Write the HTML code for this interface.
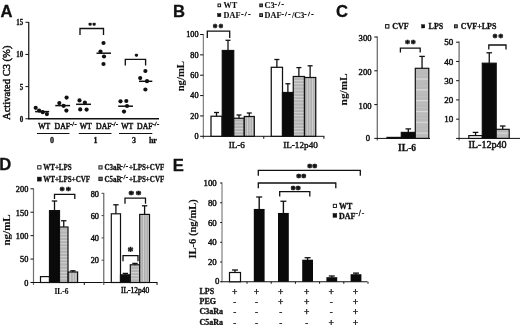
<!DOCTYPE html>
<html><head><meta charset="utf-8"><title>Figure</title>
<style>html,body{margin:0;padding:0;background:#fff}svg{display:block}text{fill:#111;stroke:#111;stroke-width:0.3px}</style>
</head><body>
<svg width="520" height="325" viewBox="0 0 520 325">
<defs>
<pattern id="hs" width="4" height="3.2" patternUnits="userSpaceOnUse"><rect width="4" height="3.2" fill="#b2b2b2"/><rect y="0" width="4" height="1" fill="#d2d2d2"/></pattern>
<pattern id="vs" width="2.6" height="4" patternUnits="userSpaceOnUse"><rect width="2.6" height="4" fill="#b0b0b0"/><rect x="0" width="0.9" height="4" fill="#d2d2d2"/></pattern>
<pattern id="hc" width="4" height="10.8" y="78.5" patternUnits="userSpaceOnUse"><rect width="4" height="10.8" fill="#b9b9b9"/><rect y="0" width="4" height="1.2" fill="#dcdcdc"/><rect y="3.6" width="4" height="0.6" fill="#c6c6c6"/><rect y="7.2" width="4" height="0.6" fill="#c6c6c6"/></pattern>
</defs>
<rect width="520" height="325" fill="#fff"/>

<text x="0.6" y="16.8" font-size="16.6" text-anchor="start" font-weight="bold" font-family='"Liberation Sans", sans-serif' >A</text>
<text x="173" y="16.6" font-size="16.6" text-anchor="start" font-weight="bold" font-family='"Liberation Sans", sans-serif' >B</text>
<text x="335.9" y="17.1" font-size="16.6" text-anchor="start" font-weight="bold" font-family='"Liberation Sans", sans-serif' >C</text>
<text x="-0.7" y="170.3" font-size="16.6" text-anchor="start" font-weight="bold" font-family='"Liberation Sans", sans-serif' >D</text>
<text x="172.8" y="170.8" font-size="16.6" text-anchor="start" font-weight="bold" font-family='"Liberation Sans", sans-serif' >E</text>
<line x1="28.75" y1="22" x2="28.75" y2="119.25" stroke="#111" stroke-width="1.2"/>
<line x1="28.25" y1="118.75" x2="159" y2="118.75" stroke="#111" stroke-width="1.3"/>
<line x1="25.45" y1="118.75" x2="28.75" y2="118.75" stroke="#111" stroke-width="1"/>
<text x="0" y="0" font-size="8.2" text-anchor="end" font-weight="bold" font-family='"Liberation Serif", serif'  transform="translate(23.25,121.65) scale(0.85,1)">0</text>
<line x1="25.45" y1="86.6" x2="28.75" y2="86.6" stroke="#111" stroke-width="1"/>
<text x="0" y="0" font-size="8.2" text-anchor="end" font-weight="bold" font-family='"Liberation Serif", serif'  transform="translate(23.25,89.5) scale(0.85,1)">5</text>
<line x1="25.45" y1="54.45" x2="28.75" y2="54.45" stroke="#111" stroke-width="1"/>
<text x="0" y="0" font-size="8.2" text-anchor="end" font-weight="bold" font-family='"Liberation Serif", serif'  transform="translate(23.25,57.35) scale(0.85,1)">10</text>
<line x1="25.45" y1="22.299999999999997" x2="28.75" y2="22.299999999999997" stroke="#111" stroke-width="1"/>
<text x="0" y="0" font-size="8.2" text-anchor="end" font-weight="bold" font-family='"Liberation Serif", serif'  transform="translate(23.25,25.199999999999996) scale(0.85,1)">15</text>
<text transform="translate(10,82.8) rotate(-90)" font-size="10.55" style="stroke-width:0.45px" text-anchor="middle" font-family='"Liberation Serif", serif'>Activated C3 (%)</text>
<circle cx="35.7" cy="107.8" r="2.1" fill="#111"/>
<circle cx="39.1" cy="110.6" r="2.1" fill="#111"/>
<circle cx="42.7" cy="112.2" r="2.1" fill="#111"/>
<circle cx="46.9" cy="114.1" r="2.1" fill="#111"/>
<line x1="35.1" y1="111.6" x2="49.2" y2="111.6" stroke="#111" stroke-width="1.5"/>
<circle cx="59.3" cy="103.1" r="2.1" fill="#111"/>
<circle cx="63.6" cy="105.8" r="2.1" fill="#111"/>
<circle cx="66.6" cy="97.6" r="2.1" fill="#111"/>
<circle cx="66.4" cy="110.6" r="2.1" fill="#111"/>
<line x1="55.3" y1="105.6" x2="70.1" y2="105.6" stroke="#111" stroke-width="1.5"/>
<circle cx="79.5" cy="100.4" r="2.1" fill="#111"/>
<circle cx="80.2" cy="109.4" r="2.1" fill="#111"/>
<circle cx="84.9" cy="102.7" r="2.1" fill="#111"/>
<circle cx="86.6" cy="109.6" r="2.1" fill="#111"/>
<line x1="76.1" y1="104.3" x2="91" y2="104.3" stroke="#111" stroke-width="1.5"/>
<circle cx="103.5" cy="43" r="2.1" fill="#111"/>
<circle cx="100.5" cy="51.5" r="2.1" fill="#111"/>
<circle cx="104" cy="56.5" r="2.1" fill="#111"/>
<circle cx="103.5" cy="64" r="2.1" fill="#111"/>
<line x1="96.5" y1="53.2" x2="111" y2="53.2" stroke="#111" stroke-width="1.5"/>
<circle cx="120.5" cy="101.3" r="2.1" fill="#111"/>
<circle cx="126.3" cy="101" r="2.1" fill="#111"/>
<circle cx="127" cy="106" r="2.1" fill="#111"/>
<circle cx="124" cy="111.6" r="2.1" fill="#111"/>
<line x1="118.2" y1="106.2" x2="133" y2="106.2" stroke="#111" stroke-width="1.5"/>
<circle cx="145.4" cy="71" r="2.1" fill="#111"/>
<circle cx="140.2" cy="78.1" r="2.1" fill="#111"/>
<circle cx="147" cy="81.2" r="2.1" fill="#111"/>
<circle cx="145.4" cy="89.5" r="2.1" fill="#111"/>
<line x1="139" y1="81.3" x2="152.3" y2="81.3" stroke="#111" stroke-width="1.5"/>
<path d="M80 35V28.5H103.5V35" fill="none" stroke="#111" stroke-width="1.35"/>
<path d="M125.3 65.5V59.3H145.6V65.5" fill="none" stroke="#111" stroke-width="1.35"/>
<text x="92.6" y="27.2" font-size="6.4" text-anchor="middle" font-weight="bold" font-family='"Liberation Serif", serif' letter-spacing="0.9" style="stroke-width:0.55px">**</text>
<text x="136.4" y="57.5" font-size="6.6" text-anchor="middle" font-weight="bold" font-family='"Liberation Serif", serif' style="stroke-width:0.55px">*</text>
<text x="38.3" y="128.5" font-size="7.7" text-anchor="start" font-weight="normal" font-family='"Liberation Serif", serif' style="stroke-width:0.5px">WT</text>
<text x="79.8" y="128.5" font-size="7.7" text-anchor="start" font-weight="normal" font-family='"Liberation Serif", serif' style="stroke-width:0.5px">WT</text>
<text x="121.3" y="128.5" font-size="7.7" text-anchor="start" font-weight="normal" font-family='"Liberation Serif", serif' style="stroke-width:0.5px">WT</text>
<text x="54.6" y="128.5" font-size="7.7" text-anchor="start" font-weight="normal" font-family='"Liberation Serif", serif' style="stroke-width:0.5px">DAF<tspan dy="-2.6" font-size="6.4" letter-spacing="0.25" font-weight="bold" style="stroke-width:0.35px">-/-</tspan><tspan dy="2.6" font-size="1">&#8203;</tspan></text>
<text x="96.1" y="128.5" font-size="7.7" text-anchor="start" font-weight="normal" font-family='"Liberation Serif", serif' style="stroke-width:0.5px">DAF<tspan dy="-2.6" font-size="6.4" letter-spacing="0.25" font-weight="bold" style="stroke-width:0.35px">-/-</tspan><tspan dy="2.6" font-size="1">&#8203;</tspan></text>
<text x="137.1" y="128.5" font-size="7.7" text-anchor="start" font-weight="normal" font-family='"Liberation Serif", serif' style="stroke-width:0.5px">DAF<tspan dy="-2.6" font-size="6.4" letter-spacing="0.25" font-weight="bold" style="stroke-width:0.35px">-/-</tspan><tspan dy="2.6" font-size="1">&#8203;</tspan></text>
<line x1="37" y1="133.5" x2="69.5" y2="133.5" stroke="#111" stroke-width="1.2"/>
<text x="51.9" y="143" font-size="8" text-anchor="middle" font-weight="bold" font-family='"Liberation Serif", serif' >0</text>
<line x1="78.8" y1="133.5" x2="111.5" y2="133.5" stroke="#111" stroke-width="1.2"/>
<text x="95.5" y="143" font-size="8" text-anchor="middle" font-weight="bold" font-family='"Liberation Serif", serif' >1</text>
<line x1="119" y1="133.5" x2="152.3" y2="133.5" stroke="#111" stroke-width="1.2"/>
<text x="134" y="143" font-size="8" text-anchor="middle" font-weight="bold" font-family='"Liberation Serif", serif' >3</text>
<text x="148.9" y="143" font-size="8" text-anchor="start" font-weight="bold" font-family='"Liberation Serif", serif' >hr</text>
<line x1="203.3" y1="34" x2="203.3" y2="138.8" stroke="#666" stroke-width="1"/>
<line x1="202.8" y1="136.3" x2="324.4" y2="136.3" stroke="#111" stroke-width="1"/>
<line x1="200.10000000000002" y1="136.3" x2="203.3" y2="136.3" stroke="#111" stroke-width="1"/>
<text x="198.5" y="139.0" font-size="8.2" text-anchor="end" font-weight="normal" font-family='"Liberation Serif", serif' style="stroke-width:0.45px">0</text>
<line x1="200.10000000000002" y1="115.94000000000001" x2="203.3" y2="115.94000000000001" stroke="#111" stroke-width="1"/>
<text x="198.5" y="118.64000000000001" font-size="8.2" text-anchor="end" font-weight="normal" font-family='"Liberation Serif", serif' style="stroke-width:0.45px">20</text>
<line x1="200.10000000000002" y1="95.58000000000001" x2="203.3" y2="95.58000000000001" stroke="#111" stroke-width="1"/>
<text x="198.5" y="98.28000000000002" font-size="8.2" text-anchor="end" font-weight="normal" font-family='"Liberation Serif", serif' style="stroke-width:0.45px">40</text>
<line x1="200.10000000000002" y1="75.22000000000001" x2="203.3" y2="75.22000000000001" stroke="#111" stroke-width="1"/>
<text x="198.5" y="77.92000000000002" font-size="8.2" text-anchor="end" font-weight="normal" font-family='"Liberation Serif", serif' style="stroke-width:0.45px">60</text>
<line x1="200.10000000000002" y1="54.860000000000014" x2="203.3" y2="54.860000000000014" stroke="#111" stroke-width="1"/>
<text x="198.5" y="57.56000000000002" font-size="8.2" text-anchor="end" font-weight="normal" font-family='"Liberation Serif", serif' style="stroke-width:0.45px">80</text>
<line x1="200.10000000000002" y1="34.500000000000014" x2="203.3" y2="34.500000000000014" stroke="#111" stroke-width="1"/>
<text x="198.5" y="37.20000000000002" font-size="8.2" text-anchor="end" font-weight="normal" font-family='"Liberation Serif", serif' style="stroke-width:0.45px">100</text>
<line x1="263.75" y1="136.3" x2="263.75" y2="138.8" stroke="#111" stroke-width="1"/>
<line x1="323.9" y1="136.3" x2="323.9" y2="138.8" stroke="#111" stroke-width="1"/>
<text transform="translate(183.5,76.2) rotate(-90)" font-size="10.7" style="stroke-width:0.12px" font-weight="bold" text-anchor="middle" font-family='"Liberation Serif", serif'>ng/mL</text>
<rect x="211" y="116.25" width="11" height="20.05000000000001" fill="#fff" stroke="#111" stroke-width="1.25"/>
<line x1="216.5" y1="116.25" x2="216.5" y2="112.5" stroke="#111" stroke-width="1.3"/>
<line x1="214.0" y1="112.5" x2="219.0" y2="112.5" stroke="#111" stroke-width="1.3"/>
<rect x="222.3" y="50.5" width="11.399999999999977" height="85.80000000000001" fill="#0a0a0a" stroke="#111" stroke-width="1.25"/>
<line x1="228.0" y1="50.5" x2="228.0" y2="40.3" stroke="#111" stroke-width="1.3"/>
<line x1="225.5" y1="40.3" x2="230.5" y2="40.3" stroke="#111" stroke-width="1.3"/>
<rect x="233.75" y="118.25" width="10.5" height="18.05000000000001" fill="url(#hs)" stroke="#111" stroke-width="1.25"/>
<line x1="239.0" y1="118.25" x2="239.0" y2="115" stroke="#111" stroke-width="1.3"/>
<line x1="236.5" y1="115" x2="241.5" y2="115" stroke="#111" stroke-width="1.3"/>
<rect x="244.25" y="116.5" width="10.050000000000011" height="19.80000000000001" fill="url(#vs)" stroke="#111" stroke-width="1.25"/>
<line x1="249.275" y1="116.5" x2="249.275" y2="113" stroke="#111" stroke-width="1.3"/>
<line x1="246.775" y1="113" x2="251.775" y2="113" stroke="#111" stroke-width="1.3"/>
<rect x="271.25" y="67.3" width="11.25" height="69.00000000000001" fill="#fff" stroke="#111" stroke-width="1.25"/>
<line x1="276.875" y1="67.3" x2="276.875" y2="59.5" stroke="#111" stroke-width="1.3"/>
<line x1="274.375" y1="59.5" x2="279.375" y2="59.5" stroke="#111" stroke-width="1.3"/>
<rect x="282.5" y="92.5" width="10.75" height="43.80000000000001" fill="#0a0a0a" stroke="#111" stroke-width="1.25"/>
<line x1="287.875" y1="92.5" x2="287.875" y2="83.75" stroke="#111" stroke-width="1.3"/>
<line x1="285.375" y1="83.75" x2="290.375" y2="83.75" stroke="#111" stroke-width="1.3"/>
<rect x="293.25" y="76.5" width="11.25" height="59.80000000000001" fill="url(#hs)" stroke="#111" stroke-width="1.25"/>
<line x1="298.875" y1="76.5" x2="298.875" y2="67.6" stroke="#111" stroke-width="1.3"/>
<line x1="296.375" y1="67.6" x2="301.375" y2="67.6" stroke="#111" stroke-width="1.3"/>
<rect x="304.5" y="77.5" width="11.25" height="58.80000000000001" fill="url(#vs)" stroke="#111" stroke-width="1.25"/>
<line x1="310.125" y1="77.5" x2="310.125" y2="65.8" stroke="#111" stroke-width="1.3"/>
<line x1="307.625" y1="65.8" x2="312.625" y2="65.8" stroke="#111" stroke-width="1.3"/>
<text x="236.8" y="147.9" font-size="9.2" text-anchor="middle" font-weight="normal" font-family='"Liberation Serif", serif' style="stroke-width:0.4px">IL-6</text>
<text x="300.5" y="147.9" font-size="9.2" text-anchor="middle" font-weight="normal" font-family='"Liberation Serif", serif' style="stroke-width:0.4px">IL-12p40</text>
<path d="M207.3 38V31.1H229.7V38" fill="none" stroke="#111" stroke-width="1.3"/>
<text x="218.4" y="31.4" font-size="9.5" text-anchor="middle" font-weight="bold" font-family='"Liberation Serif", serif' letter-spacing="0.8" style="stroke-width:0.5px">**</text>
<rect x="218" y="4" width="2.6" height="2.7" fill="#fff" stroke="#111" stroke-width="1"/>
<text x="223.6" y="8.1" font-size="8.2" text-anchor="start" font-weight="bold" font-family='"Liberation Serif", serif' style="stroke-width:0.1px">WT</text>
<rect x="217.6" y="13.5" width="3.3" height="3.2" fill="#111" stroke="#111" stroke-width="0.5"/>
<text x="223.6" y="18.2" font-size="8.2" text-anchor="start" font-weight="bold" font-family='"Liberation Serif", serif' style="stroke-width:0.1px">DAF<tspan dx="0.8" font-size="1">&#8203;</tspan><tspan dy="-1.9" font-size="6.9" letter-spacing="1.35" font-weight="bold" style="stroke-width:0.35px">-/-</tspan><tspan dy="1.9" font-size="1">&#8203;</tspan></text>
<rect x="259.8" y="4" width="2.6" height="2.7" fill="#777" stroke="#111" stroke-width="1"/>
<text x="264.6" y="8.1" font-size="8.2" text-anchor="start" font-weight="bold" font-family='"Liberation Serif", serif' style="stroke-width:0.1px">C3<tspan dy="-1.9" font-size="6.9" letter-spacing="1.35" font-weight="bold" style="stroke-width:0.35px">-/-</tspan><tspan dy="1.9" font-size="1">&#8203;</tspan></text>
<rect x="259.8" y="13.8" width="2.6" height="2.7" fill="#999" stroke="#111" stroke-width="1.1"/>
<text x="264.6" y="18.2" font-size="8.2" text-anchor="start" font-weight="bold" font-family='"Liberation Serif", serif' style="stroke-width:0.1px">DAF<tspan dy="-1.9" font-size="6.9" letter-spacing="1.35" font-weight="bold" style="stroke-width:0.35px">-/-</tspan><tspan dy="1.9" font-size="1">&#8203;</tspan>/C3<tspan dy="-1.9" font-size="6.9" letter-spacing="1.35" font-weight="bold" style="stroke-width:0.35px">-/-</tspan><tspan dy="1.9" font-size="1">&#8203;</tspan></text>
<line x1="377.3" y1="36.5" x2="377.3" y2="140.4" stroke="#707070" stroke-width="1.3"/>
<line x1="376.8" y1="138.4" x2="430" y2="138.4" stroke="#111" stroke-width="1"/>
<line x1="374.3" y1="138.4" x2="377.3" y2="138.4" stroke="#111" stroke-width="1"/>
<text x="370.1" y="141.3" font-size="8.6" text-anchor="end" font-weight="normal" font-family='"Liberation Serif", serif' style="stroke-width:0.45px">0</text>
<line x1="374.3" y1="104.6" x2="377.3" y2="104.6" stroke="#111" stroke-width="1"/>
<text x="371.5" y="108.5" font-size="8.6" text-anchor="end" font-weight="normal" font-family='"Liberation Serif", serif' style="stroke-width:0.45px">100</text>
<line x1="374.3" y1="70.8" x2="377.3" y2="70.8" stroke="#111" stroke-width="1"/>
<text x="371.5" y="74.7" font-size="8.6" text-anchor="end" font-weight="normal" font-family='"Liberation Serif", serif' style="stroke-width:0.45px">200</text>
<line x1="374.3" y1="37.0" x2="377.3" y2="37.0" stroke="#111" stroke-width="1"/>
<text x="371.5" y="40.9" font-size="8.6" text-anchor="end" font-weight="normal" font-family='"Liberation Serif", serif' style="stroke-width:0.45px">300</text>
<text transform="translate(346.7,89.4) rotate(-90)" font-size="11.3" style="stroke-width:0.12px" font-weight="bold" text-anchor="middle" font-family='"Liberation Serif", serif'>ng/mL</text>
<rect x="387" y="137.4" width="14.300000000000011" height="1.0" fill="#111" stroke="#111" stroke-width="1.2"/>
<rect x="401.3" y="132.4" width="14.0" height="6.0" fill="#0a0a0a" stroke="#111" stroke-width="1.2"/>
<line x1="408.3" y1="132.4" x2="408.3" y2="128.9" stroke="#111" stroke-width="1.3"/>
<line x1="405.5" y1="128.9" x2="411.1" y2="128.9" stroke="#111" stroke-width="1.3"/>
<rect x="415.3" y="68.3" width="13.5" height="70.10000000000001" fill="url(#hc)" stroke="#111" stroke-width="1.2"/>
<line x1="422.05" y1="68.3" x2="422.05" y2="56.4" stroke="#111" stroke-width="1.3"/>
<line x1="419.25" y1="56.4" x2="424.85" y2="56.4" stroke="#111" stroke-width="1.3"/>
<path d="M400.4 52.6V48.1H420.2V52.6" fill="none" stroke="#111" stroke-width="1.3"/>
<text x="410.8" y="46.6" font-size="10" text-anchor="middle" font-weight="bold" font-family='"Liberation Serif", serif' letter-spacing="0.7" style="stroke-width:0.55px">**</text>
<text x="0" y="0" font-size="10" text-anchor="start" font-weight="bold" font-family='"Liberation Serif", serif'  transform="translate(398.1,151) scale(0.95,1)">IL-6</text>
<line x1="459.1" y1="41.5" x2="459.1" y2="140.4" stroke="#707070" stroke-width="1.3"/>
<line x1="458.6" y1="138.4" x2="520" y2="138.4" stroke="#111" stroke-width="1"/>
<line x1="456.1" y1="138.4" x2="459.1" y2="138.4" stroke="#111" stroke-width="1"/>
<line x1="456.1" y1="119.16000000000001" x2="459.1" y2="119.16000000000001" stroke="#111" stroke-width="1"/>
<text x="453.3" y="122.26" font-size="9" text-anchor="end" font-weight="normal" font-family='"Liberation Serif", serif' style="stroke-width:0.45px">10</text>
<line x1="456.1" y1="99.92000000000002" x2="459.1" y2="99.92000000000002" stroke="#111" stroke-width="1"/>
<text x="453.3" y="103.02000000000001" font-size="9" text-anchor="end" font-weight="normal" font-family='"Liberation Serif", serif' style="stroke-width:0.45px">20</text>
<line x1="456.1" y1="80.68" x2="459.1" y2="80.68" stroke="#111" stroke-width="1"/>
<text x="453.3" y="83.78" font-size="9" text-anchor="end" font-weight="normal" font-family='"Liberation Serif", serif' style="stroke-width:0.45px">30</text>
<line x1="456.1" y1="61.44000000000001" x2="459.1" y2="61.44000000000001" stroke="#111" stroke-width="1"/>
<text x="453.3" y="64.54" font-size="9" text-anchor="end" font-weight="normal" font-family='"Liberation Serif", serif' style="stroke-width:0.45px">40</text>
<line x1="456.1" y1="42.2" x2="459.1" y2="42.2" stroke="#111" stroke-width="1"/>
<text x="453.3" y="45.300000000000004" font-size="9" text-anchor="end" font-weight="normal" font-family='"Liberation Serif", serif' style="stroke-width:0.45px">50</text>
<rect x="468.8" y="135.6" width="13.5" height="2.8000000000000114" fill="#fff" stroke="#111" stroke-width="1.2"/>
<line x1="475.55" y1="135.6" x2="475.55" y2="132.4" stroke="#111" stroke-width="1.3"/>
<line x1="472.75" y1="132.4" x2="478.35" y2="132.4" stroke="#111" stroke-width="1.3"/>
<rect x="482.3" y="63.2" width="13.899999999999977" height="75.2" fill="#0a0a0a" stroke="#111" stroke-width="1.2"/>
<line x1="489.25" y1="63.2" x2="489.25" y2="52.8" stroke="#111" stroke-width="1.3"/>
<line x1="486.45" y1="52.8" x2="492.05" y2="52.8" stroke="#111" stroke-width="1.3"/>
<rect x="496.2" y="129.3" width="13.0" height="9.099999999999994" fill="url(#hc)" stroke="#111" stroke-width="1.2"/>
<line x1="502.7" y1="129.3" x2="502.7" y2="126" stroke="#111" stroke-width="1.3"/>
<line x1="499.9" y1="126" x2="505.5" y2="126" stroke="#111" stroke-width="1.3"/>
<path d="M488.8 49.6V45H506V49.6" fill="none" stroke="#111" stroke-width="1.3"/>
<text x="498.2" y="41.4" font-size="10" text-anchor="middle" font-weight="bold" font-family='"Liberation Serif", serif' letter-spacing="0.7" style="stroke-width:0.55px">**</text>
<text x="468.5" y="148.4" font-size="10.1" text-anchor="start" font-weight="normal" font-family='"Liberation Serif", serif' style="stroke-width:0.45px">IL-12p40</text>
<rect x="385.6" y="24.6" width="3.3" height="3.5" fill="#fff" stroke="#111" stroke-width="1"/>
<text x="392.3" y="29.3" font-size="8" text-anchor="start" font-weight="bold" font-family='"Liberation Serif", serif' >CVF</text>
<rect x="421.5" y="24.6" width="3.3" height="3.4" fill="#111" stroke="#111" stroke-width="0.4"/>
<text x="428.6" y="29.3" font-size="8" text-anchor="start" font-weight="bold" font-family='"Liberation Serif", serif' >LPS</text>
<rect x="454.5" y="24.8" width="2.8" height="3" fill="#777" stroke="#111" stroke-width="0.9"/>
<text x="460.7" y="29.3" font-size="8" text-anchor="start" font-weight="bold" font-family='"Liberation Serif", serif' >CVF+LPS</text>
<line x1="33.5" y1="188.5" x2="33.5" y2="285.0" stroke="#707070" stroke-width="1.2"/>
<line x1="33.0" y1="282.5" x2="104" y2="282.5" stroke="#111" stroke-width="1"/>
<line x1="30.5" y1="282.5" x2="33.5" y2="282.5" stroke="#111" stroke-width="1"/>
<text x="28.3" y="285.9" font-size="8.3" text-anchor="end" font-weight="normal" font-family='"Liberation Serif", serif' style="stroke-width:0.45px">0</text>
<line x1="30.5" y1="259.075" x2="33.5" y2="259.075" stroke="#111" stroke-width="1"/>
<text x="28.3" y="262.47499999999997" font-size="8.3" text-anchor="end" font-weight="normal" font-family='"Liberation Serif", serif' style="stroke-width:0.45px">50</text>
<line x1="30.5" y1="235.65" x2="33.5" y2="235.65" stroke="#111" stroke-width="1"/>
<text x="28.3" y="239.05" font-size="8.3" text-anchor="end" font-weight="normal" font-family='"Liberation Serif", serif' style="stroke-width:0.45px">100</text>
<line x1="30.5" y1="212.225" x2="33.5" y2="212.225" stroke="#111" stroke-width="1"/>
<text x="28.3" y="215.625" font-size="8.3" text-anchor="end" font-weight="normal" font-family='"Liberation Serif", serif' style="stroke-width:0.45px">150</text>
<line x1="30.5" y1="188.8" x2="33.5" y2="188.8" stroke="#111" stroke-width="1"/>
<text x="28.3" y="192.20000000000002" font-size="8.3" text-anchor="end" font-weight="normal" font-family='"Liberation Serif", serif' style="stroke-width:0.45px">200</text>
<line x1="84.3" y1="282.5" x2="84.3" y2="285.0" stroke="#111" stroke-width="1"/>
<text transform="translate(10.4,229.9) rotate(-90)" font-size="11" style="stroke-width:0.12px" font-weight="bold" text-anchor="middle" font-family='"Liberation Serif", serif'>ng/mL</text>
<rect x="40.5" y="276.6" width="9.0" height="5.899999999999977" fill="#fff" stroke="#111" stroke-width="1.2"/>
<rect x="49.5" y="210.6" width="10.0" height="71.9" fill="#0a0a0a" stroke="#111" stroke-width="1.2"/>
<line x1="54.5" y1="210.6" x2="54.5" y2="201" stroke="#111" stroke-width="1.3"/>
<line x1="51.8" y1="201" x2="57.2" y2="201" stroke="#111" stroke-width="1.3"/>
<rect x="59.5" y="227" width="8.5" height="55.5" fill="url(#hs)" stroke="#111" stroke-width="1.2"/>
<line x1="63.75" y1="227" x2="63.75" y2="220.75" stroke="#111" stroke-width="1.3"/>
<line x1="61.05" y1="220.75" x2="66.45" y2="220.75" stroke="#111" stroke-width="1.3"/>
<rect x="68.2" y="272" width="9.399999999999991" height="10.5" fill="url(#vs)" stroke="#111" stroke-width="1.2"/>
<line x1="72.9" y1="272" x2="72.9" y2="270.8" stroke="#111" stroke-width="1.3"/>
<line x1="70.2" y1="270.8" x2="75.60000000000001" y2="270.8" stroke="#111" stroke-width="1.3"/>
<path d="M54.5 199V194.4H74.8V199" fill="none" stroke="#111" stroke-width="1.3"/>
<text x="65.7" y="194.1" font-size="10.5" text-anchor="middle" font-weight="bold" font-family='"Liberation Serif", serif' letter-spacing="0.9" style="stroke-width:0.5px">**</text>
<text x="61.5" y="294.2" font-size="7.5" text-anchor="middle" font-weight="bold" font-family='"Liberation Serif", serif' style="stroke-width:0.1px">IL-6</text>
<line x1="103.75" y1="193" x2="103.75" y2="285.0" stroke="#707070" stroke-width="1.3"/>
<line x1="103.25" y1="282.5" x2="157.5" y2="282.5" stroke="#111" stroke-width="1"/>
<line x1="101.55" y1="282.5" x2="103.75" y2="282.5" stroke="#444" stroke-width="1"/>
<line x1="101.55" y1="260.2" x2="103.75" y2="260.2" stroke="#444" stroke-width="1"/>
<text x="98.95" y="263.4" font-size="8.3" text-anchor="end" font-weight="normal" font-family='"Liberation Serif", serif' style="stroke-width:0.45px">20</text>
<line x1="101.55" y1="237.9" x2="103.75" y2="237.9" stroke="#444" stroke-width="1"/>
<text x="98.95" y="241.1" font-size="8.3" text-anchor="end" font-weight="normal" font-family='"Liberation Serif", serif' style="stroke-width:0.45px">40</text>
<line x1="101.55" y1="215.6" x2="103.75" y2="215.6" stroke="#444" stroke-width="1"/>
<text x="98.95" y="218.79999999999998" font-size="8.3" text-anchor="end" font-weight="normal" font-family='"Liberation Serif", serif' style="stroke-width:0.45px">60</text>
<line x1="101.55" y1="193.3" x2="103.75" y2="193.3" stroke="#444" stroke-width="1"/>
<text x="98.95" y="196.5" font-size="8.3" text-anchor="end" font-weight="normal" font-family='"Liberation Serif", serif' style="stroke-width:0.45px">80</text>
<line x1="157" y1="282.5" x2="157" y2="285.0" stroke="#111" stroke-width="1"/>
<rect x="111.3" y="213.8" width="9.200000000000003" height="68.69999999999999" fill="#fff" stroke="#111" stroke-width="1.2"/>
<line x1="115.9" y1="213.8" x2="115.9" y2="204.8" stroke="#111" stroke-width="1.3"/>
<line x1="113.2" y1="204.8" x2="118.60000000000001" y2="204.8" stroke="#111" stroke-width="1.3"/>
<rect x="120.5" y="274.8" width="9.800000000000011" height="7.699999999999989" fill="#0a0a0a" stroke="#111" stroke-width="1.2"/>
<line x1="125.4" y1="274.8" x2="125.4" y2="273.4" stroke="#111" stroke-width="1.3"/>
<line x1="122.7" y1="273.4" x2="128.1" y2="273.4" stroke="#111" stroke-width="1.3"/>
<rect x="130.3" y="264.8" width="9.399999999999977" height="17.69999999999999" fill="url(#hs)" stroke="#111" stroke-width="1.2"/>
<line x1="135.0" y1="264.8" x2="135.0" y2="263.4" stroke="#111" stroke-width="1.3"/>
<line x1="132.3" y1="263.4" x2="137.7" y2="263.4" stroke="#111" stroke-width="1.3"/>
<rect x="139.7" y="214.4" width="9.800000000000011" height="68.1" fill="url(#vs)" stroke="#111" stroke-width="1.2"/>
<line x1="144.6" y1="214.4" x2="144.6" y2="205.8" stroke="#111" stroke-width="1.3"/>
<line x1="141.9" y1="205.8" x2="147.29999999999998" y2="205.8" stroke="#111" stroke-width="1.3"/>
<path d="M125 203.7V198.1H145.5V203.7" fill="none" stroke="#111" stroke-width="1.3"/>
<text x="131.2" y="197.6" font-size="11" text-anchor="middle" font-weight="bold" font-family='"Liberation Serif", serif' style="stroke-width:0.7px">*</text>
<text x="138.5" y="197.6" font-size="11" text-anchor="middle" font-weight="bold" font-family='"Liberation Serif", serif' style="stroke-width:0.7px">*</text>
<path d="M123 261.3V255.7H138V261.3" fill="none" stroke="#111" stroke-width="1.3"/>
<text x="130.6" y="254.6" font-size="12" text-anchor="middle" font-weight="bold" font-family='"Liberation Serif", serif' style="stroke-width:0.45px">*</text>
<text x="121" y="293.2" font-size="7.5" text-anchor="start" font-weight="normal" font-family='"Liberation Serif", serif' style="stroke-width:0.45px">IL-12p40</text>
<rect x="37.7" y="165.7" width="3.3" height="3.3" fill="#fff" stroke="#111" stroke-width="0.9"/>
<text x="0" y="0" font-size="7.8" text-anchor="start" font-weight="bold" font-family='"Liberation Serif", serif'  transform="translate(43.2,170.4) scale(0.9,1)">WT+LPS</text>
<rect x="37.3" y="177.1" width="4" height="4" fill="#111" stroke="#111" stroke-width="0.5"/>
<text x="0" y="0" font-size="7.8" text-anchor="start" font-weight="bold" font-family='"Liberation Serif", serif'  transform="translate(43.2,181.8) scale(0.9,1)">WT+LPS+CVF</text>
<rect x="98.9" y="165.8" width="3.2" height="3.2" fill="#ccc" stroke="#111" stroke-width="0.9"/>
<text x="0" y="0" font-size="7.8" text-anchor="start" font-weight="bold" font-family='"Liberation Serif", serif'  transform="translate(104.4,170.4) scale(0.9,1)">C3aR</text>
<text x="120.6" y="168.0" font-size="7" text-anchor="start" font-weight="bold" font-family='"Liberation Serif", serif' letter-spacing="0.5">-/-</text>
<text x="0" y="0" font-size="7.8" text-anchor="start" font-weight="bold" font-family='"Liberation Serif", serif'  transform="translate(129,170.4) scale(0.9,1)">+LPS+CVF</text>
<rect x="98.9" y="177.2" width="3.3" height="3.4" fill="#777" stroke="#111" stroke-width="0.9"/>
<text x="0" y="0" font-size="7.8" text-anchor="start" font-weight="bold" font-family='"Liberation Serif", serif'  transform="translate(104.4,181.8) scale(0.9,1)">C5aR</text>
<text x="120.6" y="179.4" font-size="7" text-anchor="start" font-weight="bold" font-family='"Liberation Serif", serif' letter-spacing="0.5">-/-</text>
<text x="0" y="0" font-size="7.8" text-anchor="start" font-weight="bold" font-family='"Liberation Serif", serif'  transform="translate(129,181.8) scale(0.9,1)">+LPS+CVF</text>
<line x1="222" y1="182.5" x2="222" y2="282.25" stroke="#666" stroke-width="1"/>
<line x1="221.5" y1="281.75" x2="367.5" y2="281.75" stroke="#111" stroke-width="1"/>
<line x1="220.2" y1="281.75" x2="222" y2="281.75" stroke="#111" stroke-width="1"/>
<text x="219.29999999999998" y="284.35" font-size="8.8" text-anchor="end" font-weight="normal" font-family='"Liberation Serif", serif' style="stroke-width:0.45px">0</text>
<line x1="220.2" y1="262.0" x2="222" y2="262.0" stroke="#111" stroke-width="1"/>
<text x="216.7" y="265.2" font-size="8.8" text-anchor="end" font-weight="normal" font-family='"Liberation Serif", serif' style="stroke-width:0.45px">20</text>
<line x1="220.2" y1="242.25" x2="222" y2="242.25" stroke="#111" stroke-width="1"/>
<text x="216.7" y="245.45" font-size="8.8" text-anchor="end" font-weight="normal" font-family='"Liberation Serif", serif' style="stroke-width:0.45px">40</text>
<line x1="220.2" y1="222.5" x2="222" y2="222.5" stroke="#111" stroke-width="1"/>
<text x="216.7" y="225.7" font-size="8.8" text-anchor="end" font-weight="normal" font-family='"Liberation Serif", serif' style="stroke-width:0.45px">60</text>
<line x1="220.2" y1="202.75" x2="222" y2="202.75" stroke="#111" stroke-width="1"/>
<text x="216.7" y="205.95" font-size="8.8" text-anchor="end" font-weight="normal" font-family='"Liberation Serif", serif' style="stroke-width:0.45px">80</text>
<line x1="220.2" y1="183.0" x2="222" y2="183.0" stroke="#111" stroke-width="1"/>
<text x="216.7" y="186.2" font-size="8.8" text-anchor="end" font-weight="normal" font-family='"Liberation Serif", serif' style="stroke-width:0.45px">100</text>
<text transform="translate(196,228.9) rotate(-90)" font-size="10.5" style="stroke-width:0.15px" font-weight="bold" text-anchor="middle" font-family='"Liberation Serif", serif'>IL-6 (ng/mL)</text>
<rect x="229.5" y="272.5" width="11.0" height="9.25" fill="#fff" stroke="#111" stroke-width="1.2"/>
<line x1="235.0" y1="272.5" x2="235.0" y2="270" stroke="#111" stroke-width="1.3"/>
<line x1="232.0" y1="270" x2="238.0" y2="270" stroke="#111" stroke-width="1.3"/>
<rect x="253.79999999999998" y="208.95" width="10.8" height="72.8" fill="#0a0a0a"/>
<line x1="259.2" y1="209.25" x2="259.2" y2="197" stroke="#111" stroke-width="1.4"/>
<line x1="256.2" y1="197" x2="262.2" y2="197" stroke="#111" stroke-width="1.3"/>
<rect x="278.0" y="212.95" width="10.8" height="68.8" fill="#0a0a0a"/>
<line x1="283.4" y1="213.25" x2="283.4" y2="201.25" stroke="#111" stroke-width="1.4"/>
<line x1="280.4" y1="201.25" x2="286.4" y2="201.25" stroke="#111" stroke-width="1.3"/>
<rect x="302.20000000000005" y="259.7" width="10.8" height="22.05" fill="#0a0a0a"/>
<line x1="307.6" y1="260" x2="307.6" y2="257.7" stroke="#111" stroke-width="1.4"/>
<line x1="304.6" y1="257.7" x2="310.6" y2="257.7" stroke="#111" stroke-width="1.3"/>
<rect x="326.40000000000003" y="277.2" width="10.8" height="4.55" fill="#0a0a0a"/>
<line x1="331.8" y1="277.5" x2="331.8" y2="276" stroke="#111" stroke-width="1.4"/>
<line x1="328.8" y1="276" x2="334.8" y2="276" stroke="#111" stroke-width="1.3"/>
<rect x="350.6" y="274.2" width="10.8" height="7.55" fill="#0a0a0a"/>
<line x1="356.0" y1="274.5" x2="356.0" y2="273.1" stroke="#111" stroke-width="1.4"/>
<line x1="353.0" y1="273.1" x2="359.0" y2="273.1" stroke="#111" stroke-width="1.3"/>
<line x1="247.0" y1="281.75" x2="247.0" y2="283.75" stroke="#111" stroke-width="1"/>
<line x1="271.2" y1="281.75" x2="271.2" y2="283.75" stroke="#111" stroke-width="1"/>
<line x1="295.4" y1="281.75" x2="295.4" y2="283.75" stroke="#111" stroke-width="1"/>
<line x1="319.6" y1="281.75" x2="319.6" y2="283.75" stroke="#111" stroke-width="1"/>
<line x1="343.8" y1="281.75" x2="343.8" y2="283.75" stroke="#111" stroke-width="1"/>
<line x1="368.0" y1="281.75" x2="368.0" y2="283.75" stroke="#111" stroke-width="1"/>
<path d="M258.3 175.7V170.3H360.3V175.7" fill="none" stroke="#111" stroke-width="1.3"/>
<text x="312.3" y="171.3" font-size="10" text-anchor="middle" font-weight="bold" font-family='"Liberation Serif", serif' style="stroke-width:0.7px">**</text>
<path d="M258.3 188.3V183H335.8V188.3" fill="none" stroke="#111" stroke-width="1.3"/>
<text x="301.2" y="181.3" font-size="10" text-anchor="middle" font-weight="bold" font-family='"Liberation Serif", serif' style="stroke-width:0.7px">**</text>
<path d="M279.7 196.6V191.6H309.8V196.6" fill="none" stroke="#111" stroke-width="1.3"/>
<text x="295.8" y="193" font-size="10" text-anchor="middle" font-weight="bold" font-family='"Liberation Serif", serif' style="stroke-width:0.7px">**</text>
<rect x="333.3" y="204.3" width="3.2" height="3.2" fill="#fff" stroke="#111" stroke-width="0.9"/>
<text x="339" y="209" font-size="8" text-anchor="start" font-weight="bold" font-family='"Liberation Serif", serif' >WT</text>
<rect x="333" y="213.5" width="3.8" height="3.8" fill="#111" stroke="#111" stroke-width="0.5"/>
<text x="339" y="218.5" font-size="8" text-anchor="start" font-weight="bold" font-family='"Liberation Serif", serif' >DAF<tspan dy="-2.6" font-size="7.2" letter-spacing="1.0" font-weight="bold" style="stroke-width:0.35px">-/-</tspan><tspan dy="2.6" font-size="1">&#8203;</tspan></text>
<text x="199.5" y="294" font-size="8" text-anchor="start" font-weight="bold" font-family='"Liberation Serif", serif' >LPS</text>
<text x="234.8" y="295" font-size="9.5" text-anchor="middle" font-weight="bold" font-family='"Liberation Serif", serif' >+</text>
<text x="256.5" y="295" font-size="9.5" text-anchor="middle" font-weight="bold" font-family='"Liberation Serif", serif' >+</text>
<text x="280.8" y="295" font-size="9.5" text-anchor="middle" font-weight="bold" font-family='"Liberation Serif", serif' >+</text>
<text x="306.7" y="295" font-size="9.5" text-anchor="middle" font-weight="bold" font-family='"Liberation Serif", serif' >+</text>
<text x="331.3" y="295" font-size="9.5" text-anchor="middle" font-weight="bold" font-family='"Liberation Serif", serif' >+</text>
<text x="355.4" y="295" font-size="9.5" text-anchor="middle" font-weight="bold" font-family='"Liberation Serif", serif' >+</text>
<text x="199.5" y="303.9" font-size="8" text-anchor="start" font-weight="bold" font-family='"Liberation Serif", serif' >PEG</text>
<text x="234.8" y="305.2" font-size="9" text-anchor="middle" font-weight="bold" font-family='"Liberation Serif", serif' >-</text>
<text x="256.5" y="305.2" font-size="9" text-anchor="middle" font-weight="bold" font-family='"Liberation Serif", serif' >-</text>
<text x="280.8" y="304.9" font-size="9.5" text-anchor="middle" font-weight="bold" font-family='"Liberation Serif", serif' >+</text>
<text x="306.7" y="304.9" font-size="9.5" text-anchor="middle" font-weight="bold" font-family='"Liberation Serif", serif' >+</text>
<text x="331.3" y="305.2" font-size="9" text-anchor="middle" font-weight="bold" font-family='"Liberation Serif", serif' >-</text>
<text x="355.4" y="304.9" font-size="9.5" text-anchor="middle" font-weight="bold" font-family='"Liberation Serif", serif' >+</text>
<text x="199.5" y="313.9" font-size="8" text-anchor="start" font-weight="bold" font-family='"Liberation Serif", serif' >C3aRa</text>
<text x="234.8" y="315.2" font-size="9" text-anchor="middle" font-weight="bold" font-family='"Liberation Serif", serif' >-</text>
<text x="256.5" y="315.2" font-size="9" text-anchor="middle" font-weight="bold" font-family='"Liberation Serif", serif' >-</text>
<text x="280.8" y="315.2" font-size="9" text-anchor="middle" font-weight="bold" font-family='"Liberation Serif", serif' >-</text>
<text x="306.7" y="314.9" font-size="9.5" text-anchor="middle" font-weight="bold" font-family='"Liberation Serif", serif' >+</text>
<text x="331.3" y="315.2" font-size="9" text-anchor="middle" font-weight="bold" font-family='"Liberation Serif", serif' >-</text>
<text x="355.4" y="314.9" font-size="9.5" text-anchor="middle" font-weight="bold" font-family='"Liberation Serif", serif' >+</text>
<text x="199.5" y="324.6" font-size="8" text-anchor="start" font-weight="bold" font-family='"Liberation Serif", serif' >C5aRa</text>
<text x="234.8" y="325.90000000000003" font-size="9" text-anchor="middle" font-weight="bold" font-family='"Liberation Serif", serif' >-</text>
<text x="256.5" y="325.90000000000003" font-size="9" text-anchor="middle" font-weight="bold" font-family='"Liberation Serif", serif' >-</text>
<text x="280.8" y="325.90000000000003" font-size="9" text-anchor="middle" font-weight="bold" font-family='"Liberation Serif", serif' >-</text>
<text x="306.7" y="325.90000000000003" font-size="9" text-anchor="middle" font-weight="bold" font-family='"Liberation Serif", serif' >-</text>
<text x="331.3" y="325.6" font-size="9.5" text-anchor="middle" font-weight="bold" font-family='"Liberation Serif", serif' >+</text>
<text x="355.4" y="325.6" font-size="9.5" text-anchor="middle" font-weight="bold" font-family='"Liberation Serif", serif' >+</text>
</svg></body></html>
